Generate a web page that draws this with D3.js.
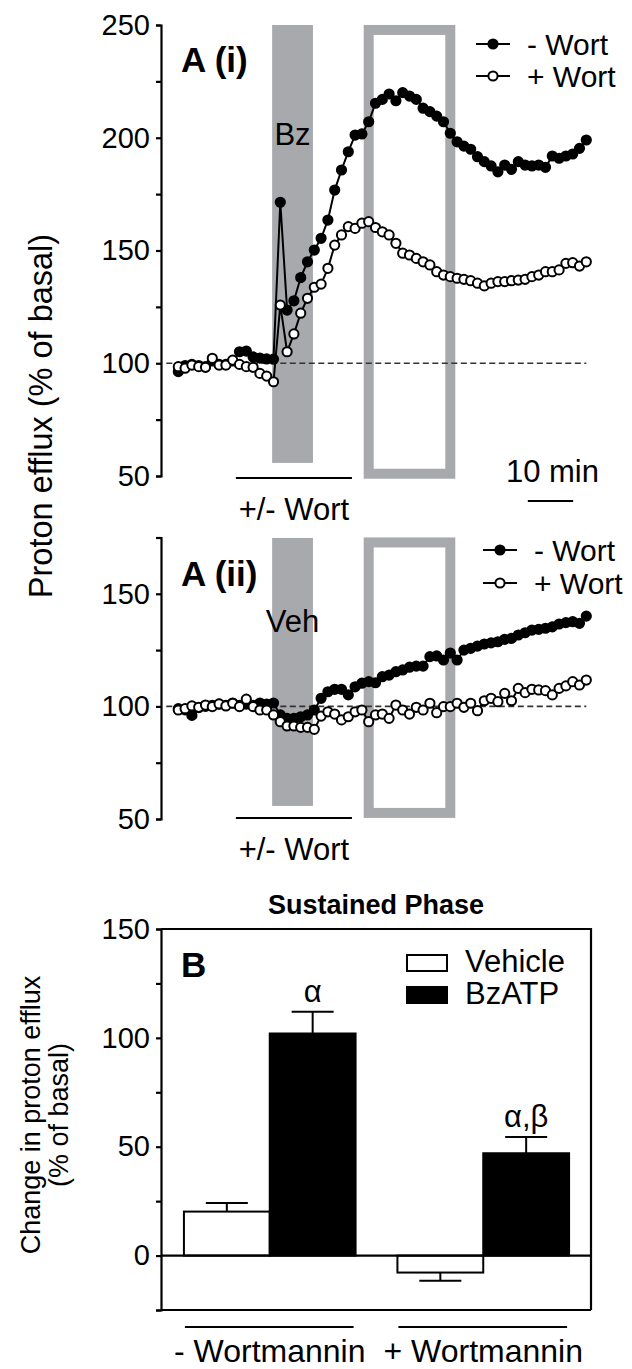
<!DOCTYPE html>
<html>
<head>
<meta charset="utf-8">
<script src="https://cdn.jsdelivr.net/npm/d3@7"></script>
<style>
  body { margin: 0; background: #fff; }
  svg text { font-family: "Liberation Sans", Arial, Helvetica, sans-serif; fill: #000; }
</style>
</head>
<body>
<svg id="fig" width="632" height="1369"></svg>
<script>
// ---- Time course: proton efflux (% of basal), one reading every 90 s ----
const sampleIntervalMin = 1.5;

// A(i): BzATP applied
const bzMinusWort = [96.3, 99.0, 99.5, 99.0, 98.5, 101.0, 99.5, 99.5, 101.0, 105.1,
  105.4, 102.8, 102.3, 101.9, 101.8, 171.4, 123.6, 127.7, 138.0, 145.0,
  150.2, 155.4, 163.5, 176.8, 185.7, 193.8, 201.2, 201.7, 207.1, 215.3,
  217.0, 219.4, 216.4, 220.0, 218.5, 217.0, 213.1, 211.6, 209.6, 207.1,
  202.0, 198.2, 196.3, 194.9, 191.6, 189.4, 187.5, 184.9, 187.9, 186.0,
  189.4, 187.9, 187.5, 187.9, 186.9, 191.9, 190.9, 191.9, 192.8, 195.3, 199.0];
const bzPlusWort = [98.5, 97.8, 99.2, 98.5, 98.2, 102.2, 99.2, 99.2, 101.4, 99.5,
  98.5, 98.2, 95.5, 94.3, 91.8, 125.8, 105.1, 113.0, 122.2, 128.8,
  133.7, 135.1, 142.1, 152.4, 156.9, 160.6, 159.8, 162.1, 162.8, 160.2,
  158.3, 156.9, 153.2, 148.8, 148.0, 146.5, 145.0, 143.6, 140.6, 139.1,
  138.4, 137.7, 137.2, 136.6, 135.5, 134.3, 135.5, 136.2, 136.2, 136.6,
  136.9, 137.2, 138.4, 139.1, 140.6, 140.6, 141.4, 144.3, 144.6, 143.1, 145.0];

// A(ii): vehicle applied
const vehMinusWort = [99.0, 98.5, 96.0, 99.5, 100.0, 100.5, 101.0, 100.5, 101.5, 100.5,
  101.0, 100.5, 101.5, 101.0, 101.5, 96.2, 94.7, 94.7, 95.4, 96.2,
  98.4, 103.6, 106.5, 107.6, 107.6, 105.1, 108.7, 110.3, 111.0, 110.5,
  113.2, 113.9, 115.4, 116.2, 117.4, 117.9, 117.9, 122.1, 122.4, 120.6,
  123.7, 120.6, 125.0, 125.8, 126.8, 127.7, 128.2, 128.7, 129.8, 130.2,
  131.7, 132.7, 133.9, 134.2, 134.7, 135.3, 136.6, 137.2, 137.6, 136.9, 140.1];
const vehPlusWort = [98.4, 99.0, 100.2, 99.6, 100.6, 99.9, 101.1, 100.2, 101.4, 99.9,
  103.2, 99.9, 98.4, 98.4, 96.2, 93.2, 91.3, 91.3, 90.7, 90.7,
  89.8, 95.7, 97.6, 96.6, 94.0, 95.4, 97.6, 98.4, 93.2, 96.2,
  96.6, 94.7, 100.6, 98.4, 96.6, 99.6, 98.4, 101.4, 97.2, 99.9,
  99.9, 101.4, 99.6, 101.4, 98.1, 102.5, 103.6, 102.1, 105.8, 102.5,
  108.0, 106.1, 107.6, 107.3, 107.0, 105.1, 108.0, 109.1, 111.0, 109.5, 111.7];

const effluxTicks = [50, 75, 100, 125, 150, 175, 200, 225, 250];
const effluxTickLabels = [50, 100, 150, 200, 250];

// Protocol timing (min)
const drugWindow = [20.7, 29.7];
const sustainedWindow = [42, 60];
const wortWindow = [12.7, 38.3];
const scaleBarMin = [77.1, 87.1];

// ---- Sustained phase summary ----
const groups = ["- Wortmannin", "+ Wortmannin"];
const treatments = ["Vehicle", "BzATP"];
const vehicleMean = [20.2, -7.8];
const vehicleSem = [4.0, 3.8];
const bzatpMean = [102.0, 47.0];
const bzatpSem = [10.0, 7.5];
const bzatpSignif = ["α", "α,β"];
const changeTicks = [-25, 0, 25, 50, 75, 100, 125, 150];
const changeTickLabels = [0, 50, 100, 150];

const svg = d3.select("#fig");
const GREY = "#a7a9ac";
const AXIS_W = 2.2;
const FS = 31;

const x = d3.scaleLinear().domain([0, 90]).range([178.3, 586.3]);

function styleAxis(g) {
  g.select(".domain").attr("stroke", "#000").attr("stroke-width", AXIS_W);
  g.selectAll(".tick line").attr("stroke", "#000").attr("stroke-width", AXIS_W);
  g.selectAll(".tick text").attr("font-size", 29).attr("fill", "#000");
}

function timeCourse(cfg) {
  const y = d3.scaleLinear().domain(cfg.domain).range(cfg.range);
  const g = svg.append("g");

  // drug application band
  g.append("rect")
    .attr("x", x(drugWindow[0])).attr("width", x(drugWindow[1]) - x(drugWindow[0]))
    .attr("y", y(cfg.bandTop)).attr("height", y(cfg.bandBottom) - y(cfg.bandTop))
    .attr("fill", GREY);

  // sustained-phase window
  g.append("rect")
    .attr("x", x(sustainedWindow[0])).attr("width", x(sustainedWindow[1]) - x(sustainedWindow[0]))
    .attr("y", y(cfg.boxTop)).attr("height", y(cfg.boxBottom) - y(cfg.boxTop))
    .attr("fill", "#fff").attr("stroke", GREY).attr("stroke-width", 10);

  // basal reference
  g.append("line")
    .attr("x1", x.range()[0] - 12).attr("x2", x.range()[1])
    .attr("y1", y(100)).attr("y2", y(100))
    .attr("stroke", "#333").attr("stroke-width", 1.6).attr("stroke-dasharray", "6,3.5");

  // wortmannin exposure bar
  g.append("line")
    .attr("x1", x(wortWindow[0])).attr("x2", x(wortWindow[1]))
    .attr("y1", cfg.wortY).attr("y2", cfg.wortY)
    .attr("stroke", "#000").attr("stroke-width", 2);
  g.append("text")
    .attr("x", (x(wortWindow[0]) + x(wortWindow[1])) / 2).attr("y", cfg.wortY + 42)
    .attr("text-anchor", "middle").attr("font-size", FS).text("+/- Wort");

  // axis
  const ax = g.append("g").attr("transform", `translate(161,0)`)
    .call(d3.axisLeft(y).tickValues(effluxTicks.filter(v => v >= cfg.domain[0] && v <= cfg.domain[1]))
      .tickSize(5).tickPadding(6)
      .tickFormat(v => effluxTickLabels.includes(v) ? v : ""));
  styleAxis(ax);

  // series
  const line = d3.line().x((d, i) => x(i * sampleIntervalMin)).y(d => y(d));
  [[cfg.minus, "#000"], [cfg.plus, "#fff"]].forEach(([vals, fill]) => {
    g.append("path").datum(vals).attr("d", line)
      .attr("fill", "none").attr("stroke", "#000").attr("stroke-width", 2);
    g.append("g").selectAll("circle").data(vals).join("circle")
      .attr("cx", (d, i) => x(i * sampleIntervalMin)).attr("cy", d => y(d))
      .attr("r", 4.6).attr("fill", fill).attr("stroke", "#000").attr("stroke-width", 2);
  });

  // panel label and treatment label
  g.append("text").attr("x", 181).attr("y", cfg.labelY)
    .attr("font-size", 35).attr("font-weight", "bold").text(cfg.label);
  g.append("text").attr("x", (x(drugWindow[0]) + x(drugWindow[1])) / 2).attr("y", cfg.drugLabelY)
    .attr("text-anchor", "middle").attr("font-size", FS).text(cfg.drugLabel);

  // legend
  [["- Wort", "#000"], ["+ Wort", "#fff"]].forEach(([name, fill], k) => {
    const ly = cfg.legendY + k * cfg.legendGap;
    g.append("line").attr("x1", cfg.legendX - 17).attr("x2", cfg.legendX + 17)
      .attr("y1", ly).attr("y2", ly).attr("stroke", "#000").attr("stroke-width", 2);
    g.append("circle").attr("cx", cfg.legendX).attr("cy", ly).attr("r", 4.6)
      .attr("fill", fill).attr("stroke", "#000").attr("stroke-width", 2);
    g.append("text").attr("x", cfg.legendX + 34).attr("y", ly + 10.5)
      .attr("font-size", 30).text(name);
  });
  return y;
}

timeCourse({
  domain: [50, 250], range: [476, 25],
  minus: bzMinusWort, plus: bzPlusWort,
  bandTop: 250, bandBottom: 55.8, boxTop: 247.8, boxBottom: 51,
  wortY: 478, label: "A (i)", labelY: 72, drugLabel: "Bz", drugLabelY: 145,
  legendX: 493, legendY: 44, legendGap: 32
});

timeCourse({
  domain: [50, 175], range: [819, 537.5],
  minus: vehMinusWort, plus: vehPlusWort,
  bandTop: 174.8, bandBottom: 55.8, boxTop: 172.8, boxBottom: 52.7,
  wortY: 818, label: "A (ii)", labelY: 586, drugLabel: "Veh", drugLabelY: 632,
  legendX: 500, legendY: 550, legendGap: 33
});

// 10 min scale bar
svg.append("line").attr("x1", x(scaleBarMin[0])).attr("x2", x(scaleBarMin[1]))
  .attr("y1", 501).attr("y2", 501).attr("stroke", "#000").attr("stroke-width", 2);
svg.append("text").attr("x", (x(scaleBarMin[0]) + x(scaleBarMin[1])) / 2 + 2).attr("y", 482)
  .attr("text-anchor", "middle").attr("font-size", FS).text("10 min");

// shared y label for panel A
svg.append("text").attr("transform", "translate(52,416) rotate(-90)")
  .attr("text-anchor", "middle").attr("font-size", 32.5).text("Proton efflux (% of basal)");

// ---- Panel B ----
const yB = d3.scaleLinear().domain([-25, 150]).range([1310, 929]);
const xB = d3.scaleBand().domain(groups).range([163, 590]).paddingInner(0.196).paddingOuter(0.098);
const xT = d3.scaleBand().domain(treatments).range([0, xB.bandwidth()]);
const gB = svg.append("g");

// frame
gB.append("path")
  .attr("d", `M161,${yB(150)}H${591}V${yB(-25)}`)
  .attr("fill", "none").attr("stroke", "#000").attr("stroke-width", AXIS_W);
gB.append("line").attr("x1", 161).attr("x2", 591).attr("y1", yB(-25)).attr("y2", yB(-25))
  .attr("stroke", "#000").attr("stroke-width", AXIS_W);

const bars = groups.flatMap((grp, i) => [
  { grp, trt: "Vehicle", mean: vehicleMean[i], sem: vehicleSem[i], mark: "" },
  { grp, trt: "BzATP", mean: bzatpMean[i], sem: bzatpSem[i], mark: bzatpSignif[i] }
]);

bars.forEach(b => {
  const x0 = xB(b.grp) + xT(b.trt), w = xT.bandwidth(), cx = x0 + w / 2;
  const tip = b.mean + Math.sign(b.mean) * b.sem;
  gB.append("line").attr("x1", cx).attr("x2", cx).attr("y1", yB(b.mean)).attr("y2", yB(tip))
    .attr("stroke", "#000").attr("stroke-width", 2);
  gB.append("line").attr("x1", cx - 21).attr("x2", cx + 21).attr("y1", yB(tip)).attr("y2", yB(tip))
    .attr("stroke", "#000").attr("stroke-width", 2);
  gB.append("rect").attr("x", x0).attr("width", w)
    .attr("y", yB(Math.max(0, b.mean))).attr("height", Math.abs(yB(b.mean) - yB(0)))
    .attr("fill", b.trt === "BzATP" ? "#000" : "#fff").attr("stroke", "#000").attr("stroke-width", 2);
  if (b.mark) {
    gB.append("text").attr("x", cx).attr("y", yB(tip) - 10)
      .attr("text-anchor", "middle").attr("font-size", FS).text(b.mark);
  }
});

// zero line
gB.append("line").attr("x1", 161).attr("x2", 591).attr("y1", yB(0)).attr("y2", yB(0))
  .attr("stroke", "#000").attr("stroke-width", AXIS_W);

const axB = gB.append("g").attr("transform", "translate(161,0)")
  .call(d3.axisLeft(yB).tickValues(changeTicks).tickSize(5).tickPadding(6)
    .tickFormat(v => changeTickLabels.includes(v) ? v : ""));
styleAxis(axB);

// group brackets and labels
groups.forEach(grp => {
  gB.append("line").attr("x1", xB(grp) + 1).attr("x2", xB(grp) + xB.bandwidth() - 2)
    .attr("y1", 1327).attr("y2", 1327).attr("stroke", "#000").attr("stroke-width", 2);
  gB.append("text").attr("x", xB(grp) + xB.bandwidth() / 2).attr("y", 1362)
    .attr("text-anchor", "middle").attr("font-size", 32).text(grp);
});

gB.append("text").attr("x", 376).attr("y", 914).attr("text-anchor", "middle")
  .attr("font-size", 27).attr("font-weight", "bold").text("Sustained Phase");
gB.append("text").attr("x", 181).attr("y", 977)
  .attr("font-size", 35).attr("font-weight", "bold").text("B");

// legend
[["Vehicle", "#fff"], ["BzATP", "#000"]].forEach(([name, fill], k) => {
  const ly = 955 + k * 32;
  gB.append("rect").attr("x", 407).attr("y", ly).attr("width", 40).attr("height", 16)
    .attr("fill", fill).attr("stroke", "#000").attr("stroke-width", 2);
  gB.append("text").attr("x", 465).attr("y", ly + 17).attr("font-size", FS).text(name);
});

// y label
const yl = gB.append("text").attr("transform", "translate(0,1115) rotate(-90)")
  .attr("text-anchor", "middle").attr("font-size", 27);
yl.append("tspan").attr("x", 0).attr("y", 40).text("Change in proton efflux");
yl.append("tspan").attr("x", 0).attr("y", 68).text("(% of basal)");
</script>
</body>
</html>
